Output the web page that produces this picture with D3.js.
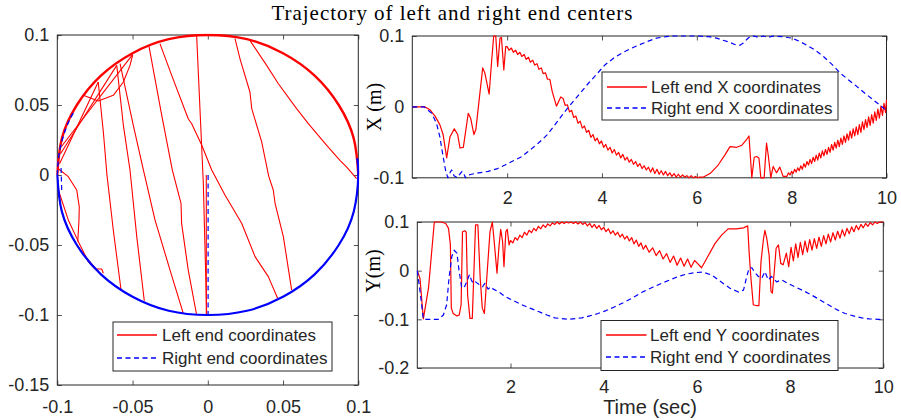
<!DOCTYPE html>
<html>
<head>
<meta charset="utf-8">
<script src="https://cdn.jsdelivr.net/npm/d3@7"></script>
<style>
body { margin: 0; background: #fff; }
svg text { font-family: "Liberation Sans", Arial, Helvetica, sans-serif; fill: #262626; }
.serif { font-family: "Liberation Serif", "Times New Roman", serif !important; fill: #000 !important; }
</style>
</head>
<body>
<svg id="chart" width="901" height="420"></svg>
<script>

// ---- tick values / labels ----
var leftXTicks = [-0.1, -0.05, 0, 0.05, 0.1];
var leftYTicks = [-0.15, -0.1, -0.05, 0, 0.05, 0.1];
var timeTicks = [2, 4, 6, 8, 10];
var topYTicks = [-0.1, 0, 0.1];
var bottomYTicks = [-0.2, -0.1, 0, 0.1];

var titleText = "Trajectory of left and right end centers";
var legendPlane = ["Left end coordinates", "Right end coordinates"];
var legendX = ["Left end X coordinates", "Right end X coordinates"];
var legendY = ["Left end Y coordinates", "Right end Y coordinates"];

// ---- time series, [t (sec), value (m)] ----
var leftX = [[0,0],[0.27,0],[0.37,-0.004],[0.48,-0.013],[0.58,-0.025],[0.65,-0.039],[0.725,-0.072],[0.795,-0.042],
  [0.886,-0.031],[0.957,-0.039],[1.006,-0.058],[1.076,-0.057],[1.18,-0.009],[1.23,-0.016],[1.30,-0.039],[1.34,-0.032],
  [1.485,0.055],[1.53,0.048],[1.62,0.018],[1.67,0.062],[1.716,0.1],[1.76,0.1],[1.80,0.057],[1.85,0.097],[1.88,0.098],
  [1.93,0.052],[1.97,0.085],
  [2.00,0.085],[2.04,0.080],[2.09,0.083],[2.13,0.077],[2.18,0.080],[2.22,0.074],[2.27,0.077],[2.31,0.071],[2.36,0.074],
  [2.40,0.067],[2.45,0.070],[2.49,0.063],[2.54,0.066],[2.58,0.059],[2.63,0.061],[2.67,0.053],[2.72,0.055],[2.76,0.047],
  [2.81,0.048],[2.85,0.039],[2.90,0.039],[2.95,0.022],[3.04,0.001],[3.13,0.014],
  [3.18,0.012],[3.225,0.002],[3.27,0.003],[3.315,-0.007],[3.36,-0.005],[3.405,-0.015],[3.45,-0.013],[3.495,-0.023],
  [3.54,-0.020],[3.585,-0.030],[3.63,-0.027],[3.675,-0.036],[3.72,-0.033],[3.765,-0.043],[3.81,-0.039],[3.855,-0.048],
  [3.90,-0.044],[3.945,-0.052],[3.99,-0.048],[4.035,-0.057],[4.08,-0.053],[4.125,-0.061],[4.17,-0.057],[4.215,-0.065],
  [4.26,-0.060],[4.305,-0.068],[4.35,-0.064],[4.395,-0.072],[4.44,-0.067],[4.485,-0.075],[4.53,-0.071],[4.575,-0.078],
  [4.62,-0.074],[4.665,-0.081],[4.71,-0.077],[4.755,-0.084],[4.80,-0.080],[4.845,-0.087],[4.89,-0.083],[4.935,-0.089],
  [4.98,-0.085],[5.025,-0.092],[5.07,-0.086],[5.115,-0.094],[5.16,-0.088],[5.205,-0.095],[5.25,-0.090],[5.295,-0.096],
  [5.34,-0.091],[5.385,-0.097],[5.43,-0.093],[5.475,-0.098],[5.52,-0.094],[5.565,-0.099],[5.61,-0.095],[5.655,-0.099],
  [5.70,-0.096],[5.745,-0.099],[5.79,-0.097],[5.835,-0.1],[5.88,-0.097],[5.925,-0.1],[5.97,-0.098],[6.015,-0.1],
  [6.06,-0.099],[6.14,-0.099],
  [6.28,-0.094],[6.45,-0.082],[6.59,-0.068],[6.70,-0.056],[6.84,-0.057],[6.95,-0.054],[7.04,-0.047],[7.10,-0.041],
  [7.16,-0.1],[7.21,-0.071],[7.26,-0.07],[7.31,-0.072],[7.35,-0.1],[7.42,-0.1],[7.47,-0.051],[7.51,-0.07],[7.56,-0.1],
  [7.61,-0.084],[7.68,-0.093],[7.75,-0.085],[7.82,-0.098],
  [7.90,-0.098],[7.9325,-0.093],[7.965,-0.096],[7.9975,-0.091],[8.03,-0.094],[8.0625,-0.088],[8.095,-0.092],
  [8.1275,-0.086],[8.16,-0.090],[8.1925,-0.083],[8.225,-0.088],[8.2575,-0.080],[8.29,-0.085],[8.3225,-0.077],
  [8.355,-0.082],[8.3875,-0.074],[8.42,-0.080],[8.4525,-0.071],[8.485,-0.077],[8.5175,-0.068],[8.55,-0.075],
  [8.5825,-0.065],[8.615,-0.072],[8.6475,-0.062],[8.68,-0.069],[8.7125,-0.060],[8.745,-0.067],[8.7775,-0.057],
  [8.81,-0.064],[8.8425,-0.053],[8.875,-0.061],[8.9075,-0.050],[8.94,-0.058],[8.9725,-0.047],[9.005,-0.056],
  [9.0375,-0.044],[9.07,-0.053],[9.1025,-0.041],[9.135,-0.050],[9.1675,-0.038],[9.20,-0.047],[9.2325,-0.034],
  [9.265,-0.044],[9.2975,-0.031],[9.33,-0.041],[9.3625,-0.028],[9.395,-0.039],[9.4275,-0.025],[9.46,-0.036],
  [9.4925,-0.021],[9.525,-0.032],[9.5575,-0.018],[9.59,-0.029],[9.6225,-0.014],[9.655,-0.026],[9.6875,-0.011],
  [9.72,-0.023],[9.7525,-0.007],[9.785,-0.019],[9.8175,-0.003],[9.85,-0.016],[9.8825,0.001],[9.915,-0.012],
  [9.9475,0.005],[9.98,-0.008],[10.0,0.01]];

var rightX = [[0,0],[0.25,0],[0.41,-0.009],[0.51,-0.023],[0.58,-0.042],[0.65,-0.07],[0.70,-0.089],[0.75,-0.1],
  [0.80,-0.092],[0.83,-0.089],[0.88,-0.097],[0.95,-0.1],[1.0,-0.095],[1.05,-0.091],[1.08,-0.093],[1.12,-0.1],
  [1.18,-0.096],[1.25,-0.095],[1.4,-0.093],[1.6,-0.091],[1.8,-0.087],[1.955,-0.082],[2.1,-0.077],[2.31,-0.07],
  [2.5,-0.06],[2.66,-0.051],[2.85,-0.039],[3.01,-0.025],[3.2,-0.008],[3.36,0.005],[3.55,0.02],[3.71,0.033],
  [3.9,0.047],[4.06,0.059],[4.25,0.069],[4.42,0.076],[4.6,0.082],[4.77,0.087],[4.95,0.092],[5.15,0.097],
  [5.35,0.099],[5.5,0.1],[6.03,0.1],[6.25,0.099],[6.42,0.097],[6.55,0.094],[6.70,0.091],[6.8,0.088],[6.91,0.087],
  [6.98,0.090],[7.05,0.095],[7.12,0.099],[7.2,0.1],[7.3,0.098],[7.4,0.1],[7.5,0.098],[7.61,0.1],[7.8,0.099],
  [8.0,0.097],[8.15,0.093],[8.32,0.087],[8.5,0.08],[8.67,0.071],[8.85,0.06],[9.02,0.048],[9.2,0.038],[9.37,0.029],
  [9.55,0.019],[9.72,0.01],[9.85,0.003],[10,-0.005]];

var leftY = [[0,0],[0.058,-0.016],[0.13,-0.099],[0.24,-0.036],[0.365,0.1],[0.52,0.1],[0.61,0.097],[0.67,0.087],
  [0.71,0.053],[0.73,-0.077],[0.77,-0.088],[0.85,-0.093],[0.90,-0.091],[0.94,-0.07],[0.97,0.08],[1.02,0.082],
  [1.05,0.079],[1.08,-0.05],[1.13,-0.098],[1.18,-0.098],[1.25,0.094],[1.30,0.094],[1.35,-0.016],[1.395,-0.077],
  [1.44,-0.088],[1.49,-0.016],[1.56,0.08],[1.61,0.1],[1.65,0.06],[1.71,-0.005],[1.755,0.052],[1.79,0.085],
  [1.83,0.06],[1.86,0.008],[1.90,0.08],[1.93,0.085],[1.97,0.053],
  [2.00,0.062],[2.05,0.057],[2.10,0.068],[2.15,0.063],[2.20,0.073],[2.25,0.068],[2.30,0.079],[2.35,0.073],
  [2.40,0.083],[2.45,0.078],[2.50,0.087],[2.55,0.082],[2.60,0.091],[2.65,0.086],[2.70,0.094],[2.75,0.089],
  [2.80,0.096],[2.85,0.092],[2.90,0.098],[2.95,0.095],[3.00,0.1],[3.05,0.096],[3.10,0.1],[3.15,0.097],[3.20,0.1],
  [3.25,0.098],[3.30,0.1],[3.35,0.097],[3.40,0.1],[3.45,0.096],[3.50,0.1],[3.55,0.095],[3.60,0.099],[3.65,0.092],
  [3.70,0.097],[3.75,0.089],[3.80,0.095],[3.85,0.087],[3.90,0.093],[3.95,0.084],[4.00,0.089],[4.05,0.080],
  [4.10,0.086],[4.15,0.076],[4.20,0.082],[4.25,0.073],[4.30,0.079],[4.35,0.069],[4.40,0.075],[4.45,0.065],
  [4.50,0.071],[4.55,0.061],[4.60,0.068],[4.65,0.055],[4.70,0.063],[4.75,0.050],[4.80,0.057],[4.85,0.044],
  [4.90,0.052],[4.975,0.038],[5.05,0.047],[5.125,0.031],[5.20,0.041],[5.275,0.024],[5.35,0.035],[5.425,0.017],
  [5.50,0.030],[5.575,0.011],[5.65,0.026],[5.725,0.009],[5.80,0.024],[5.875,0.007],[5.95,0.021],[6.10,0.006],
  [6.21,0.025],[6.39,0.056],[6.53,0.073],[6.67,0.086],[6.85,0.086],[7.0,0.088],[7.09,0.092],[7.12,0.039],
  [7.16,-0.016],[7.21,-0.07],[7.28,-0.072],[7.33,-0.072],[7.375,0.018],[7.43,0.066],[7.46,0.083],[7.50,0.066],
  [7.55,0.032],[7.59,-0.043],[7.62,-0.046],[7.66,-0.002],[7.70,0.046],[7.75,0.053],[7.80,0.015],[7.85,0.012],
  [7.92,0.036],[7.97,0.008],[8.02,0.048],[8.07,0.020],[8.12,0.055],[8.17,0.027],[8.22,0.058],[8.27,0.033],
  [8.32,0.061],[8.37,0.038],[8.42,0.064],[8.47,0.042],[8.52,0.066],[8.57,0.046],[8.62,0.069],[8.67,0.050],
  [8.72,0.072],[8.77,0.055],[8.82,0.075],[8.87,0.059],[8.92,0.078],[8.97,0.063],[9.02,0.081],[9.07,0.067],
  [9.12,0.084],[9.17,0.071],[9.22,0.087],[9.27,0.076],[9.32,0.090],[9.37,0.080],[9.42,0.093],[9.47,0.084],
  [9.52,0.095],[9.57,0.088],[9.62,0.097],[9.67,0.091],[9.72,0.099],[9.77,0.094],[9.82,0.1],[9.87,0.097],
  [9.92,0.1],[10.0,0.1]];

var rightY = [[0,0],[0.06,-0.043],[0.13,-0.1],[0.45,-0.1],[0.56,-0.091],[0.63,-0.07],[0.68,-0.016],[0.74,0.029],
  [0.79,0.042],[0.85,0.036],[0.895,0.001],[0.95,-0.033],[1.0,-0.036],[1.06,-0.023],[1.12,-0.008],[1.16,-0.019],
  [1.20,-0.026],[1.25,-0.023],[1.32,-0.028],[1.40,-0.033],[1.45,-0.026],[1.52,-0.038],[1.58,-0.033],[1.63,-0.038],
  [1.74,-0.043],[1.88,-0.053],[2.05,-0.061],[2.24,-0.07],[2.42,-0.077],[2.60,-0.084],[2.78,-0.091],[2.95,-0.097],
  [3.24,-0.1],[3.53,-0.097],[3.7,-0.093],[3.88,-0.088],[4.05,-0.082],[4.24,-0.074],[4.42,-0.066],[4.6,-0.057],
  [4.85,-0.043],[5.05,-0.034],[5.24,-0.026],[5.42,-0.019],[5.60,-0.012],[5.78,-0.007],[5.96,-0.004],[6.13,-0.003],
  [6.32,-0.009],[6.53,-0.024],[6.71,-0.036],[6.89,-0.044],[7.0,-0.04],[7.07,-0.012],[7.12,0.005],[7.18,0.006],
  [7.23,-0.002],[7.32,-0.012],[7.39,-0.016],[7.46,-0.002],[7.53,-0.019],[7.60,-0.012],[7.71,-0.023],[7.82,-0.019],
  [7.95,-0.026],[8.1,-0.033],[8.28,-0.041],[8.46,-0.05],[8.64,-0.06],[8.82,-0.07],[9.0,-0.08],[9.18,-0.088],
  [9.36,-0.093],[9.54,-0.097],[9.7,-0.099],[9.89,-0.1],[10,-0.1]];

// ---- X-Y plane, [X, Y] ----
var redUpperArc = [[-0.1,0],[-0.097,0.026],[-0.087,0.05],[-0.071,0.071],[-0.05,0.087],[-0.026,0.097],[0,0.1],
  [0.026,0.097],[0.05,0.087],[0.071,0.071],[0.087,0.05],[0.097,0.026],[0.1,0]];
var redLowerArc = [[-0.1,0],[-0.097,-0.026],[-0.087,-0.05],[-0.071,-0.071]];
var redChords = [
  [[-0.0728,0.0664],[-0.0694,0.0307],[-0.067,0.0],[-0.0628,-0.0393],[-0.0577,-0.0816]],
  [[-0.0605,0.0783],[-0.0561,0.0355],[-0.0517,0.0036],[-0.0472,-0.044],[-0.0422,-0.0898]],
  [[-0.0583,0.0795],[-0.0495,0.0355],[-0.0428,0.0036],[-0.0351,-0.032],[-0.0251,-0.0679],[-0.0163,-0.0988]],
  [[-0.0391,0.0921],[-0.0306,0.0426],[-0.0236,0.0036],[-0.0178,-0.0202],[-0.0174,-0.0345],[-0.013,-0.0679],[-0.0074,-0.1]],
  [[-0.0318,0.0938],[-0.024,0.0712],[-0.013,0.0402],[-0.0107,0.0366],[-0.004,0.0212],[0.0026,0.0036],[0.0114,-0.0143],
   [0.0225,-0.0345],[0.0314,-0.0583],[0.0402,-0.0726],[0.0464,-0.0881]],
  [[-0.0074,0.0993],[-0.003,-0.005],[-0.0007,-0.1]],
  [[0.0181,0.0974],[0.0214,0.083],[0.028,0.0593],[0.0292,0.0474],[0.0358,0.0236],[0.0405,-0.001],[0.0435,-0.0107],
   [0.0447,-0.0202],[0.0502,-0.044],[0.0557,-0.0821]],
  [[0.028,0.0962],[0.0391,0.0783],[0.0469,0.0652],[0.059,0.0474],[0.0668,0.0367],[0.079,0.0212],[0.0878,0.0105],
   [0.0923,0.0057],[0.0989,-0.0026]],
  [[-0.0827,0.0569],[-0.0728,0.0529],[-0.0628,0.0569],[-0.0561,0.0664],[-0.0517,0.0783],[-0.0499,0.0859]],
  [[-0.0985,0.008],[-0.0728,0.0664]],
  [[-0.098,0.015],[-0.0605,0.0783]],
  [[-0.0975,0.02],[-0.05,0.086]],
  [[-0.0993,0.0045],[-0.0927,-0.0012],[-0.0871,-0.0107],[-0.0854,-0.0226],[-0.0856,-0.0321],[-0.0864,-0.0476]],
  [[-0.0993,-0.0107],[-0.0927,-0.0321],[-0.086,-0.0476],[-0.0794,-0.0619],[-0.075,-0.0671],[-0.0705,-0.0671],[-0.0694,-0.0702]],
  [[-0.001,0],[-0.001,-0.1]]
];
var blueLowerArc = [[-0.1,0],[-0.097,-0.026],[-0.087,-0.05],[-0.071,-0.071],[-0.05,-0.087],[-0.026,-0.097],[0,-0.1],
  [0.026,-0.097],[0.05,-0.087],[0.071,-0.071],[0.087,-0.05],[0.097,-0.026],[0.1,0],[0.0993,0.012]];
var blueUpperArc = [[-0.1,0],[-0.0985,0.017],[-0.094,0.034],[-0.089,0.045]];
var blueBits = [
  [[0.0002,0],[0.0002,-0.1]],
  [[-0.0975,0.005],[-0.097,-0.013]]
];

var RED = "#ff0000", BLUE = "#0000ff", AXC = "#262626";

var svg = d3.select("#chart");
var defs = svg.append("defs");

function makePanel(id, box, xDom, yDom, xTicks, yTicks, xPad) {
  var x = d3.scaleLinear().domain(xDom).range([box.x0, box.x1]);
  var y = d3.scaleLinear().domain(yDom).range([box.y1, box.y0]);
  var tl = 4.5;
  var fmt = function(d) { return String(d); };

  defs.append("clipPath").attr("id", id)
    .append("rect")
    .attr("x", box.x0 - 1).attr("y", box.y0 - 1.5)
    .attr("width", box.x1 - box.x0 + 2).attr("height", box.y1 - box.y0 + 3);

  var g = svg.append("g");

  g.append("g").attr("transform", "translate(0," + box.y1 + ")")
    .call(d3.axisBottom(x).tickValues(xTicks).tickSize(-tl).tickPadding(xPad).tickFormat(fmt));
  g.append("g").attr("transform", "translate(0," + box.y0 + ")")
    .call(d3.axisTop(x).tickValues(xTicks).tickSize(-tl).tickFormat(""));
  g.append("g").attr("transform", "translate(" + box.x0 + ",0)")
    .call(d3.axisLeft(y).tickValues(yTicks).tickSize(-tl).tickPadding(8).tickFormat(fmt));
  g.append("g").attr("transform", "translate(" + box.x1 + ",0)")
    .call(d3.axisRight(y).tickValues(yTicks).tickSize(-tl).tickFormat(""));

  g.selectAll(".domain").remove();
  g.selectAll(".tick line").attr("stroke", AXC).attr("stroke-width", 0.8);
  g.selectAll(".tick text").style("font-size", "18px").attr("fill", AXC);

  g.append("rect")
    .attr("x", box.x0).attr("y", box.y0)
    .attr("width", box.x1 - box.x0).attr("height", box.y1 - box.y0)
    .attr("fill", "none").attr("stroke", AXC).attr("stroke-width", 1);

  var plot = svg.append("g").attr("clip-path", "url(#" + id + ")");
  return { x: x, y: y, plot: plot };
}

function drawLine(p, data, color, width, dashed, curve) {
  var line = d3.line()
    .x(function(d) { return p.x(d[0]); })
    .y(function(d) { return p.y(d[1]); })
    .curve(curve || d3.curveLinear);
  var path = p.plot.append("path")
    .datum(data)
    .attr("d", line)
    .attr("fill", "none")
    .attr("stroke", color)
    .attr("stroke-width", width)
    .attr("stroke-linejoin", "round");
  if (dashed) path.attr("stroke-dasharray", "5,3.5");
}

function drawLegend(x0, y0, w, h, labels, rows, lx0, lx1, tx) {
  var g = svg.append("g");
  g.append("rect").attr("x", x0).attr("y", y0).attr("width", w).attr("height", h)
    .attr("fill", "#fff").attr("stroke", AXC).attr("stroke-width", 1);
  labels.forEach(function(lab, i) {
    var ln = g.append("line")
      .attr("x1", lx0).attr("x2", lx1).attr("y1", rows[i]).attr("y2", rows[i])
      .attr("stroke", i === 0 ? RED : BLUE).attr("stroke-width", 1.3);
    if (i === 1) ln.attr("stroke-dasharray", "5,3.5");
    g.append("text").attr("x", tx).attr("y", rows[i] + 6)
      .style("font-size", "17px").attr("fill", "#000").text(lab);
  });
}

// ---- left panel: X-Y plane ----
var pL = makePanel("clipL", { x0: 57.3, x1: 358.3, y0: 35, y1: 385 },
  [-0.1, 0.1], [-0.15, 0.1], leftXTicks, leftYTicks, 15);

drawLine(pL, redUpperArc, RED, 2.4, false, d3.curveNatural);
drawLine(pL, redLowerArc, RED, 1.2, false, d3.curveNatural);
redChords.forEach(function(c) { drawLine(pL, c, RED, 1.1, false); });
drawLine(pL, blueLowerArc, BLUE, 2.2, false, d3.curveNatural);
drawLine(pL, blueUpperArc, BLUE, 1.4, true, d3.curveNatural);
blueBits.forEach(function(c) { drawLine(pL, c, BLUE, 1.2, true); });

drawLegend(113, 322, 219, 49, legendPlane, [335, 358], 117, 157, 162);

// ---- top right: X(t) ----
var pX = makePanel("clipX", { x0: 412.3, x1: 886.5, y0: 36, y1: 177.8 },
  [0, 10], [-0.1, 0.1], timeTicks, topYTicks, 13);
drawLine(pX, leftX, RED, 1.2, false);
drawLine(pX, rightX, BLUE, 1.2, true);
drawLegend(602, 72, 236, 48, legendX, [87, 108], 607, 647, 651);

// ---- bottom right: Y(t) ----
var pY = makePanel("clipY", { x0: 417.3, x1: 883.3, y0: 222, y1: 368 },
  [0, 10], [-0.2, 0.1], timeTicks, bottomYTicks, 12);
drawLine(pY, leftY, RED, 1.2, false);
drawLine(pY, rightY, BLUE, 1.2, true);
drawLegend(601, 320.5, 237, 50, legendY, [335, 357], 606, 646.6, 650);

// ---- texts ----
svg.append("text").attr("class", "serif")
  .attr("x", 452).attr("y", 20)
  .attr("text-anchor", "middle")
  .attr("textLength", 361).attr("lengthAdjust", "spacing")
  .style("font-size", "21px")
  .text(titleText);

svg.append("text").attr("class", "serif")
  .attr("transform", "translate(381,107) rotate(-90)")
  .attr("text-anchor", "middle")
  .style("font-size", "20px")
  .text("X (m)");

svg.append("text").attr("class", "serif")
  .attr("transform", "translate(380,271) rotate(-90)")
  .attr("text-anchor", "middle")
  .style("font-size", "20px")
  .text("Y(m)");

svg.append("text")
  .attr("x", 650).attr("y", 414)
  .attr("text-anchor", "middle")
  .style("font-size", "20px")
  .text("Time (sec)");

</script>
</body>
</html>
